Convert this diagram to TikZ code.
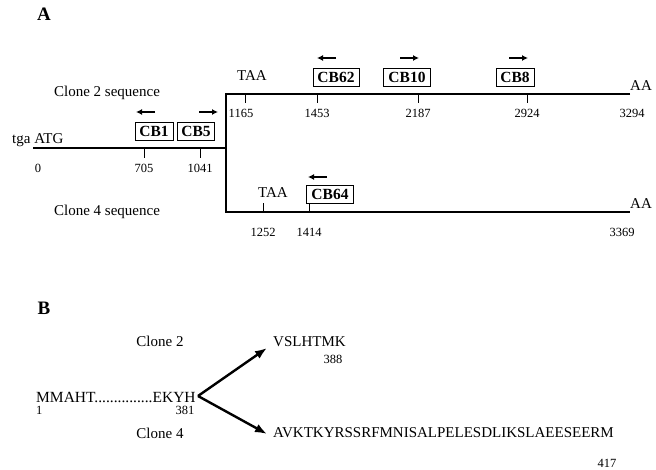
\documentclass[tikz,border=0pt]{standalone}
\usepackage{fontspec}
\setmainfont{Liberation Serif}
\usetikzlibrary{positioning, arrows.meta}
\tikzset{
  seq/.style={line width=2pt, line join=miter},
  ticmark/.style={line width=0.9pt},
  primer/.style={rectangle, draw, line width=0.9pt, inner sep=1pt,
                 minimum height=18pt, font=\fontsize{15.5}{15.5}\selectfont\bfseries},
  posnum/.style={inner sep=0pt, font=\fontsize{12.5}{12.5}\selectfont},
  lbl/.style={inner sep=0pt, font=\fontsize{15}{15}\selectfont},
  panel/.style={inner sep=0pt, font=\fontsize{19}{19}\selectfont\bfseries},
  dirarr/.style={-{Latex[length=6pt,width=6pt]}, line width=1.3pt},
  fork/.style={-{Latex[length=12pt,width=9pt]}, line width=2.4pt},
}
\begin{document}
\begin{tikzpicture}[x=1pt,y=-1pt]
  \useasboundingbox (0,0) rectangle (656,470);
  % panel A
  \node[panel] (pA) at (44,14) {A};
  \coordinate (s0) at (33,148);  \coordinate (br) at (226,148);
  \coordinate (brt) at (226,94); \coordinate (brb) at (226,212);
  \coordinate (e2) at (630,94);  \coordinate (e4) at (630,212);
  \draw[seq] (s0) -- (br);
  \draw[seq] (e2) -- (brt) -- (brb) -- (e4);
  \node[lbl] (seq2) at (107,93)  {Clone 2 sequence};
  \node[lbl] (seq4) at (107,212) {Clone 4 sequence};
  \node[lbl, anchor=south west] (atg) at (12,147) {tga ATG};
  \node[lbl] (taa2) at (252,76)  {TAA};
  \node[lbl] (taa4) at (273,193) {TAA};
  \node[lbl] (aa2)  at (641,86)  {AA};
  \node[lbl] (aa4)  at (641,204) {AA};
  % positions on the common part
  \node[posnum] (n0) at (38,168) {0};
  \foreach \x/\n in {144/705, 200/1041}{
    \draw[ticmark] (\x,148) -- ++(0,10);
    \node[posnum] (n\n) at (\x,168) {\n};
  }
  % positions on clone 2
  \foreach \x/\n in {245/1165, 317/1453, 418/2187, 527/2924}{
    \draw[ticmark] (\x,94) -- ++(0,9);
  }
  \foreach \x/\n in {241/1165, 317/1453, 418/2187, 527/2924, 632/3294}{
    \node[posnum] (n\n) at (\x,113) {\n};
  }
  % positions on clone 4
  \foreach \x/\n in {263/1252, 309/1414}{
    \draw[ticmark] (\x,212) -- ++(0,-9);
  }
  \foreach \x/\n in {263/1252, 309/1414, 622/3369}{
    \node[posnum] (n\n) at (\x,232) {\n};
  }
  % primers
  \node[primer, minimum width=38pt] (cb1)  at (154,131) {CB1};
  \node[primer, minimum width=37pt] (cb5)  at (196,131) {CB5};
  \node[primer, minimum width=46pt] (cb62) at (336,77)  {CB62};
  \node[primer, minimum width=47pt] (cb10) at (407,77)  {CB10};
  \node[primer, minimum width=38pt] (cb8)  at (515,77)  {CB8};
  \node[primer, minimum width=47pt] (cb64) at (330,194) {CB64};
  \draw[dirarr] (155,112) -- (136,112);
  \draw[dirarr] (199,112) -- (218,112);
  \draw[dirarr] (336,58)  -- (317,58);
  \draw[dirarr] (400,58)  -- (419,58);
  \draw[dirarr] (509,58)  -- (528,58);
  \draw[dirarr] (327,177) -- (308,177);
  % panel B
  \node[panel] (pB) at (44,308) {B};
  \node[lbl] (cl2) at (160,341) {Clone 2};
  \node[lbl] (cl4) at (160,433) {Clone 4};
  \node[lbl, anchor=west, font=\fontsize{15.5}{15.5}\selectfont] (core) at (36,397) {MMAHT...............EKYH};
  \node[posnum, anchor=west] (n1) at (36,410) {1};
  \node[posnum] (n381) at (185,410) {381};
  \node[lbl, anchor=west] (pep2) at (273,342) {VSLHTMK};
  \node[posnum] (n388) at (333,359) {388};
  \node[lbl, anchor=west] (pep4) at (273,433) {AVKTKYRSSRFMNISALPELESDLIKSLAEESEERM};
  \node[posnum] (n417) at (607,463) {417};
  \coordinate (fk) at (198,396);
  \coordinate (t2) at (267,348);
  \coordinate (t4) at (267,434);
  \draw[fork] (fk) -- (t2);
  \draw[fork] (fk) -- (t4);
\end{tikzpicture}
\end{document}
